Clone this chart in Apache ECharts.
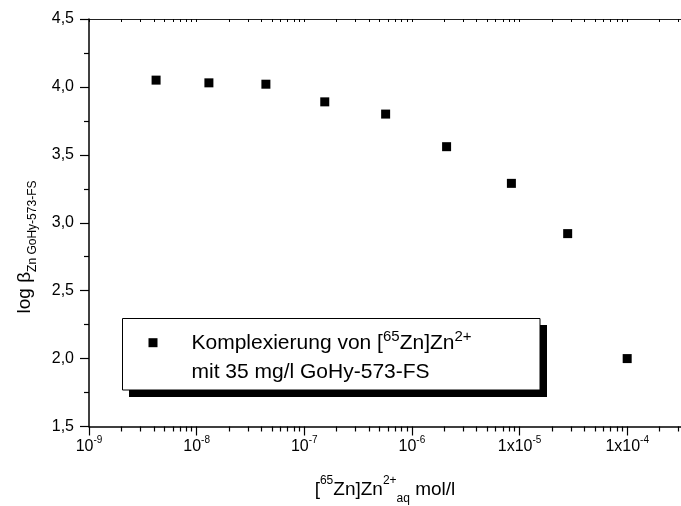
<!DOCTYPE html>
<html><head><meta charset="utf-8">
<script src="https://cdn.jsdelivr.net/npm/echarts@6/dist/echarts.min.js"></script>
<style>html,body{margin:0;padding:0;background:#fff}#c{width:681px;height:506px}</style>
</head><body><div id="c"></div>
<script>
// ---- data ----
const concentrations = [4.2e-9, 1.3e-8, 4.4e-8, 1.55e-7, 5.7e-7, 2.1e-6, 8.4e-6, 2.8e-5, 1.0e-4];
const logBeta = [4.05, 4.03, 4.02, 3.89, 3.80, 3.56, 3.29, 2.92, 2.00];
const seriesName = 'Komplexierung von [65Zn]Zn2+ mit 35 mg/l GoHy-573-FS';
const majorExponents = [-9, -8, -7, -6, -5, -4];
const xTickBase = ['10', '10', '10', '10', '1x10', '1x10'];
const xTickSup = ['-9', '-8', '-7', '-6', '-5', '-4'];
const minorMultipliers = [2, 3, 4, 5, 6, 7, 8, 9];
const yMin = 1.5, yMax = 4.5, yStep = 0.5;

// ---- helpers ----
const FF = '"Liberation Sans", Arial, sans-serif';
const xMin = Math.pow(10, -9), xMax = Math.pow(10, -3.5);
const majorValues = majorExponents.map(e => Math.pow(10, e));
const minorValues = [];
majorExponents.forEach(e => minorMultipliers.forEach(m => {
  const v = m * Math.pow(10, e);
  if (v <= xMax) minorValues.push(v);
}));
const allValues = majorValues.concat(minorValues);

const chart = echarts.init(document.getElementById('c'), null, {renderer: 'canvas'});
const baseX = {
  type: 'log', min: xMin, max: xMax, logBase: 10,
  splitLine: {show: false}, minorTick: {show: false}, minorSplitLine: {show: false}
};
chart.setOption({
  backgroundColor: '#fff',
  animation: false,
  grid: {left: 89, right: 0, top: 19, bottom: 79.5, containLabel: false},
  xAxis: [
    Object.assign({}, baseX, {
      position: 'bottom',
      axisLine: {show: true, lineStyle: {color: '#000', width: 1.5}},
      axisTick: {show: true, inside: false, length: 9, lineStyle: {color: '#000', width: 1.2}, customValues: majorValues},
      axisLabel: {
        show: true, margin: 9, customValues: majorValues,
        formatter: function (v) {
          const i = majorExponents.indexOf(Math.round(Math.log10(v)));
          return i < 0 ? '' : '{b|' + xTickBase[i] + '}{s|' + xTickSup[i] + '}';
        },
        rich: {
          b: {fontFamily: FF, fontSize: 16, color: '#000', lineHeight: 22, verticalAlign: 'middle'},
          s: {fontFamily: FF, fontSize: 10, color: '#000', lineHeight: 10, verticalAlign: 'top'}
        }
      }
    }),
    Object.assign({}, baseX, {
      position: 'bottom',
      axisLine: {show: false},
      axisTick: {show: true, inside: false, length: 5, lineStyle: {color: '#000', width: 1.2}, customValues: minorValues},
      axisLabel: {show: false}
    }),
    Object.assign({}, baseX, {
      position: 'top',
      axisLine: {show: true, lineStyle: {color: '#222', width: 1.2}},
      axisTick: {show: true, inside: true, length: 3, lineStyle: {color: '#000', width: 1}, customValues: allValues},
      axisLabel: {show: false}
    })
  ],
  yAxis: [{
    type: 'value', min: yMin, max: yMax, interval: yStep,
    axisLine: {show: true, lineStyle: {color: '#000', width: 1.5}},
    axisTick: {show: true, inside: false, length: 9, lineStyle: {color: '#000', width: 1.2}},
    minorTick: {show: true, splitNumber: 2, length: 5, lineStyle: {color: '#000', width: 1.2}},
    splitLine: {show: false},
    axisLabel: {
      margin: 15, fontFamily: FF, fontSize: 16, color: '#000',
      formatter: v => v.toFixed(1).replace('.', ',')
    }
  }],
  series: [{
    name: seriesName, type: 'scatter', xAxisIndex: 0, yAxisIndex: 0,
    symbol: 'rect', symbolSize: 9,
    itemStyle: {color: '#000', opacity: 1},
    data: concentrations.map((c, i) => [c, logBeta[i]])
  }],
  graphic: [
    // legend box with hard shadow
    {type: 'rect', z: 10, shape: {x: 129, y: 325, width: 418, height: 72}, style: {fill: '#000'}},
    {type: 'rect', z: 11, shape: {x: 122.5, y: 318.5, width: 417.5, height: 71.5}, style: {fill: '#fff', stroke: '#000', lineWidth: 1}},
    {type: 'rect', z: 12, shape: {x: 148.5, y: 338.2, width: 9, height: 9}, style: {fill: '#000'}},
    {type: 'text', z: 12, x: 191.5, y: 343, style: {
      text: '{a|Komplexierung von [}{s|65}{a|Zn]Zn}{s|2+}', align: 'left', verticalAlign: 'middle',
      rich: {
        a: {fontFamily: FF, fontSize: 21, fill: '#000', lineHeight: 28, verticalAlign: 'middle'},
        s: {fontFamily: FF, fontSize: 15, fill: '#000', lineHeight: 15, verticalAlign: 'top'}
      }
    }},
    {type: 'text', z: 12, x: 191.5, y: 372, style: {
      text: 'mit 35 mg/l GoHy-573-FS', align: 'left', verticalAlign: 'middle',
      fontFamily: FF, fontSize: 21, fill: '#000'
    }},
    // y axis title
    {type: 'text', x: 27, y: 247, rotation: Math.PI / 2, style: {
      text: '{b|log β}{s|Zn GoHy-573-FS}', align: 'center', verticalAlign: 'middle',
      rich: {
        b: {fontFamily: FF, fontSize: 19, fill: '#000', lineHeight: 23, verticalAlign: 'top'},
        s: {fontFamily: FF, fontSize: 12, fill: '#000', lineHeight: 12, verticalAlign: 'bottom'}
      }
    }},
    // x axis title
    {type: 'text', x: 385, y: 490, style: {
      text: '{b|[}{s|65}{b|Zn]Zn}{s|2+}{u|aq}{b| mol/l}', align: 'center', verticalAlign: 'middle',
      rich: {
        b: {fontFamily: FF, fontSize: 19, fill: '#000', lineHeight: 30, verticalAlign: 'middle'},
        s: {fontFamily: FF, fontSize: 12, fill: '#000', lineHeight: 12, verticalAlign: 'top'},
        u: {fontFamily: FF, fontSize: 12, fill: '#000', lineHeight: 12, verticalAlign: 'bottom'}
      }
    }}
  ]
});
</script>
</body></html>
